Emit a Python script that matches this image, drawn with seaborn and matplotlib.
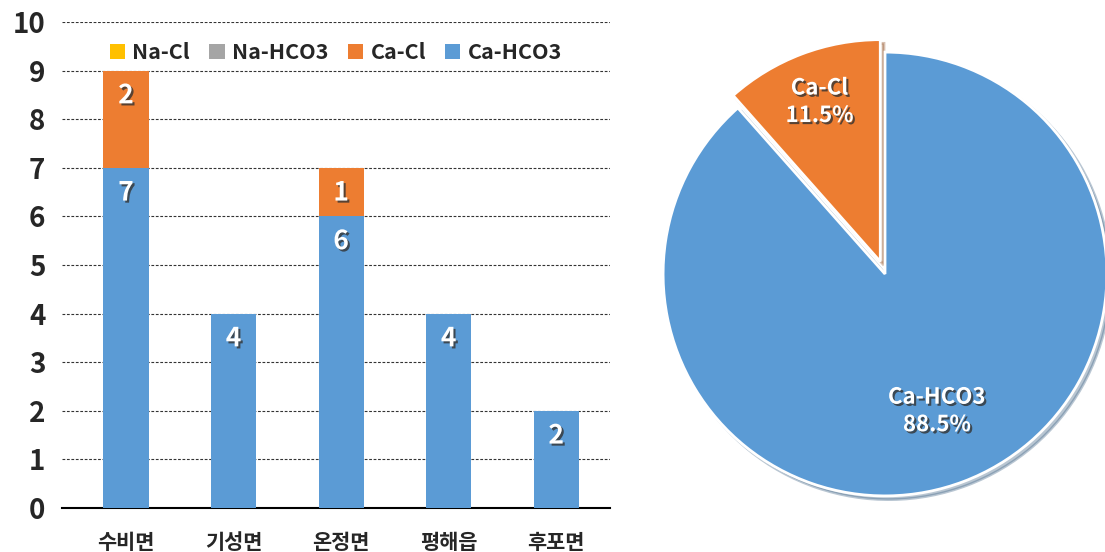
import matplotlib
matplotlib.use("Agg")
import matplotlib.pyplot as plt
import matplotlib.patheffects as pe
import seaborn as sns
import pandas as pd
import numpy as np

# ---- data ----
regions = ["수비면", "기성면", "온정면", "평해읍", "후포면"]
ca_hco3 = [7, 4, 6, 4, 2]
ca_cl = [2, 0, 1, 0, 0]
na_hco3 = [0, 0, 0, 0, 0]
na_cl = [0, 0, 0, 0, 0]
series_names = ["Na-Cl", "Na-HCO3", "Ca-Cl", "Ca-HCO3"]
colors = {"Na-Cl": "#FFC000", "Na-HCO3": "#A5A5A5", "Ca-Cl": "#ED7D31", "Ca-HCO3": "#5B9BD5"}
yticks = list(range(0, 11))

sns.set_theme(style="white")
plt.rcParams["font.family"] = ["Noto Sans CJK KR", "DejaVu Sans"]
plt.rcParams["font.weight"] = "bold"

fig = plt.figure(figsize=(11.05, 5.52), dpi=100)
ax = fig.add_axes([62 / 1105, 1 - 508 / 552, 548 / 1105, 486 / 552])

# stacked layers from bottom: Ca-HCO3, Ca-Cl, Na-HCO3, Na-Cl
layers = [("Ca-HCO3", ca_hco3), ("Ca-Cl", ca_cl), ("Na-HCO3", na_hco3), ("Na-Cl", na_cl)]
cums = []
run = np.zeros(len(regions))
for name, vals in layers:
    bottom = run.copy()
    run = run + np.array(vals)
    cums.append((name, bottom, run.copy(), vals))

for name, bottom, top, vals in reversed(cums):
    df = pd.DataFrame({"region": regions, "value": top})
    sns.barplot(data=df, x="region", y="value", color=colors[name], saturation=1,
                width=0.42, ax=ax, label=name, edgecolor="none", zorder=3)

# labels (inside end of each segment)
shadow = [pe.withSimplePatchShadow(offset=(1.5, -1.5), shadow_rgbFace="#333333", alpha=0.8)]
for name, bottom, top, vals in cums:
    for i, v in enumerate(vals):
        if v > 0:
            ax.text(i, top[i] - 0.52, str(v),
                    ha="center", va="center", color="white", fontsize=19,
                    fontweight="bold", path_effects=shadow, zorder=5)

ax.set_ylim(0, 10)
ax.set_xlim(-0.595, 4.5)
ax.set_yticks(yticks)
ax.set_yticklabels([str(t) for t in yticks], fontsize=20, fontweight="bold")
ax.set_xticks(range(len(regions)))
ax.set_xticklabels(regions, fontsize=15, fontweight="bold")
ax.set_xlabel("")
ax.set_ylabel("")
for t in yticks[1:]:
    ax.axhline(t, color="#333333", linestyle=(0, (2.5, 1.5)), linewidth=0.8, zorder=1)
for s in ["top", "right", "left"]:
    ax.spines[s].set_visible(False)
ax.spines["bottom"].set_color("black")
ax.spines["bottom"].set_linewidth(1.5)
ax.tick_params(axis="y", length=0, pad=12)
ax.tick_params(axis="x", length=0, pad=17)

handles, labels = ax.get_legend_handles_labels()
hmap = dict(zip(labels, handles))
ax.legend([hmap[n] for n in series_names], series_names, ncol=4, loc="center",
          bbox_to_anchor=(0.5, 0.938), frameon=False,
          handlelength=0.7, handleheight=0.7, handletextpad=0.35, columnspacing=0.9,
          prop={"weight": "bold", "size": 15.5})

# ---- pie ----
pie_labels = ["Ca-Cl", "Ca-HCO3"]
pie_vals = [sum(ca_cl), sum(ca_hco3)]
pax = fig.add_axes([(885 - 233) / 1105, (552 - 274 - 233) / 552, 466 / 1105, 466 / 552])
wedges, _, autotexts = pax.pie(
    pie_vals, colors=[colors["Ca-Cl"], colors["Ca-HCO3"]], startangle=90,
    counterclock=True, explode=[0.06, 0], autopct="%1.1f%%",
    wedgeprops=dict(edgecolor="white", linewidth=2),
    shadow={"ox": 0.012, "oy": -0.012, "shade": 0.4, "alpha": 0.35},
)
dists = [0.77, 0.66]
for w, at, lab, d in zip(wedges, autotexts, pie_labels, dists):
    ang = np.deg2rad((w.theta1 + w.theta2) / 2)
    cx, cy = w.center
    at.set_position((cx + d * np.cos(ang), cy + d * np.sin(ang)))
    at.set_text(f"{lab}\n{at.get_text()}")
    at.set_color("white")
    at.set_fontsize(16)
    at.set_fontweight("bold")
    at.set_ha("center")
    at.set_va("center")
    at.set_linespacing(1.25)
    at.set_path_effects(shadow)
pax.set_xlim(-1.05, 1.05)
pax.set_ylim(-1.05, 1.05)
pax.set_aspect("equal")
pax.axis("off")

fig.savefig("out.png", dpi=100)
